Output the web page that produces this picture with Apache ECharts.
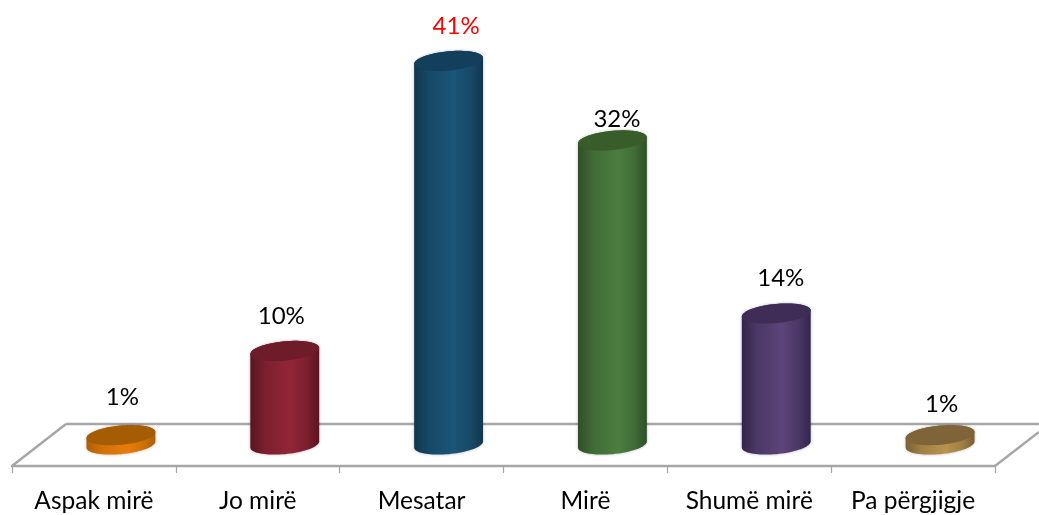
<!DOCTYPE html>
<html><head><meta charset="utf-8">
<style>html,body{margin:0;padding:0;background:#fff;overflow:hidden}#c{width:1039px;height:515px}</style>
<script src="https://cdn.jsdelivr.net/npm/echarts@6/dist/echarts.min.js"></script>
</head><body><div id="c"></div>
<script>
const categories = ['Aspak mirë','Jo mirë','Mesatar','Mirë','Shumë mirë','Pa përgjigje'];
const values = [1, 10, 41, 32.5, 14, 1];
const labels = ['1%','10%','41%','32%','14%','1%'];

// styling, one entry per bar: [top, side edge, side highlight]
const palette = [
  ['#a65c02','#ab6005','#e87c0a'],
  ['#6e1c2a','#5a1520','#922637'],
  ['#143f5c','#12364e','#1b5578'],
  ['#385c2a','#2f4f27','#4b7e40'],
  ['#3f2d58','#32254a','#5c4579'],
  ['#7f6439','#7a5f33','#b8944f']
];
const labelColors = ['#000','#000','#ff0000','#000','#000','#000'];
const labelGap = [38, 35, 35, 22, 36, 31];
const labelShift = [2, -3, 8, 5, 5, 2];

const F = 'Lato, sans-serif';
const GL = 12, GR = 44, GB = 49, GT = 45;
const depthX = 27, depthY = 21.5, backY = 42;
const tilt = 5.5 * Math.PI / 180;

function ell(cx, cy, a, b, t) {
  const c = Math.cos(t), s = Math.sin(t);
  return [cx + a * c * Math.cos(tilt) + b * s * Math.sin(tilt),
          cy - a * c * Math.sin(tilt) + b * s * Math.cos(tilt)];
}
function renderBar(params, api) {
  const i = api.value(0);
  const top = api.coord([i, api.value(1)]);
  const base = api.coord([i, 0]);
  const band = api.size([1, 0])[0];
  const a = band * 0.211, b = 9.6;
  const cx = top[0] + depthX;
  const yt = top[1] - depthY, yb = base[1] - depthY;
  // silhouette of the cylinder: upper half of the top ellipse, lower half of the bottom one
  const pts = [];
  const t0 = Math.atan2(b * Math.sin(tilt), a * Math.cos(tilt));
  for (let k = 0; k <= 40; k++) pts.push(ell(cx, yb, a, b, t0 + Math.PI * k / 40));
  for (let k = 0; k <= 40; k++) pts.push(ell(cx, yt, a, b, t0 + Math.PI + Math.PI * k / 40));
  const cap = [];
  for (let k = 0; k < 80; k++) cap.push(ell(cx, yt, a, b, 2 * Math.PI * k / 80));
  const p = palette[i];
  const mid = echarts.color.lerp(0.6, [p[1], p[2]]);
  const grad = new echarts.graphic.LinearGradient(0, 0, 1, 0, [
    {offset: 0, color: p[1]}, {offset: 0.22, color: mid}, {offset: 0.58, color: p[2]},
    {offset: 0.82, color: mid}, {offset: 1, color: p[1]}
  ]);
  return {type: 'group', children: [
    {type: 'polygon', shape: {points: pts}, style: {fill: grad, shadowBlur: 3, shadowColor: 'rgba(0,0,0,0.3)'}},
    {type: 'polygon', shape: {points: cap}, style: {fill: p[0]}},
    {type: 'text', x: cx + labelShift[i] - 0.5, y: yt - labelGap[i] + 0.5,
     style: {text: labels[i], fill: labelColors[i], font: '24px ' + F, align: 'center', verticalAlign: 'middle'}}
  ]};
}

const chart = echarts.init(document.getElementById('c'), null, {renderer: 'canvas'});
const W = 1039, H = 515, fy = H - GB, fr = W - GR;
const lineStyle = {stroke: '#a6a6a6', lineWidth: 2.4};
chart.setOption({
  animation: false,
  backgroundColor: '#fff',
  grid: {left: GL, right: GR, top: GT, bottom: GB, containLabel: false},
  xAxis: {
    type: 'category', data: categories,
    axisLine: {show: true, lineStyle: {color: '#a6a6a6', width: 2.4}},
    axisTick: {show: true, length: 7, alignWithLabel: false, lineStyle: {color: '#a6a6a6', width: 1.2}},
    axisLabel: {color: '#000', fontFamily: F, fontSize: 24.5, margin: 23, interval: 0}
  },
  yAxis: {type: 'value', min: 0, max: 45, show: false, splitLine: {show: false}},
  graphic: [
    {type: 'line', z: 0, shape: {x1: GL, y1: fy, x2: GL + 54, y2: fy - backY}, style: lineStyle},
    {type: 'line', z: 0, shape: {x1: GL + 54, y1: fy - backY, x2: W, y2: fy - backY}, style: lineStyle},
    {type: 'line', z: 0, shape: {x1: fr, y1: fy, x2: W, y2: fy - 34}, style: lineStyle}
  ],
  series: [{
    type: 'custom', coordinateSystem: 'cartesian2d', clip: false,
    encode: {x: 0, y: 1},
    data: values.map((v, i) => [i, v]),
    renderItem: renderBar
  }]
});
</script></body></html>
